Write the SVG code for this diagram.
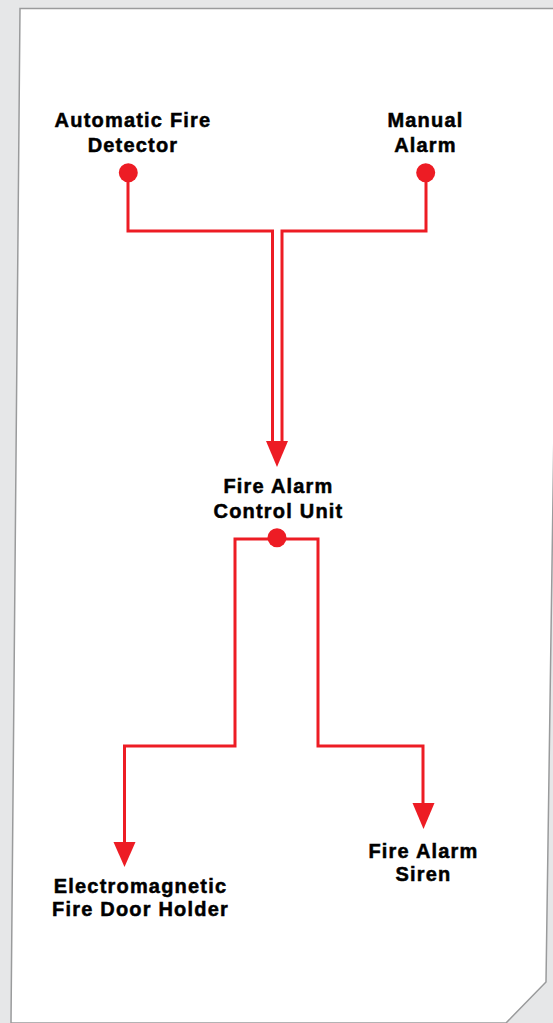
<svg xmlns="http://www.w3.org/2000/svg" width="553" height="1023" viewBox="0 0 553 1023">
<style>
.lbl{font-family:"Liberation Sans",Arial,sans-serif;font-weight:700;font-size:20px;letter-spacing:1.2px;fill:#000;stroke:#000;stroke-width:0.5;text-anchor:middle}
.wire{fill:none;stroke:#ed1c24;stroke-width:3}
.dot{fill:#ed1c24}
.head{fill:#ed1c24}
</style>
<rect x="0" y="0" width="553" height="1023" fill="#e6e7e8"/>
<path d="M20,8.5 L560,8.5 L546,982 L506,1023 L11,1023 Z" fill="#fff" stroke="#9a9b9c" stroke-width="1.5"/>
<g id="connectors">
<path class="wire" d="M128,173 V231 H272.5 V443"/>
<path class="wire" d="M426,173 V231 H282 V443"/>
<polygon class="head" points="266,441 288,441 277,467"/>
<path class="wire" d="M124.5,843 V746 H235 V539 H318 V746 H423 V804"/>
<polygon class="head" points="113.5,842 135.5,842 124.5,867"/>
<polygon class="head" points="412.5,803 434.5,803 423.5,829"/>
</g>
<g id="auto-detector">
<text class="lbl" x="133" y="127">Automatic Fire</text>
<text class="lbl" x="133" y="152">Detector</text>
<circle class="dot" cx="128.3" cy="172.7" r="9.5"/>
</g>
<g id="manual-alarm">
<text class="lbl" x="425.5" y="127">Manual</text>
<text class="lbl" x="425.5" y="152">Alarm</text>
<circle class="dot" cx="425.7" cy="172.7" r="9.5"/>
</g>
<g id="control-unit">
<text class="lbl" x="278.5" y="493">Fire Alarm</text>
<text class="lbl" x="278.5" y="518">Control Unit</text>
<circle class="dot" cx="277" cy="537.7" r="9.5"/>
</g>
<g id="door-holder">
<text class="lbl" x="140.5" y="892.5">Electromagnetic</text>
<text class="lbl" x="140.5" y="915.5">Fire Door Holder</text>
</g>
<g id="siren">
<text class="lbl" x="423.5" y="857.5">Fire Alarm</text>
<text class="lbl" x="423.5" y="880.5">Siren</text>
</g>
</svg>
